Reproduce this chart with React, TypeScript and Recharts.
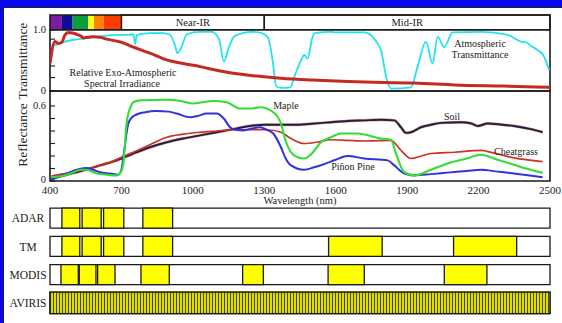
import React from 'react';
import { ComposedChart, LineChart, Line, XAxis, YAxis, ReferenceArea } from 'recharts';

const FONT = '"Liberation Serif", "Times New Roman", Times, serif';
const INK = '#1a1a1a';

// ---------- data ----------
const wlDomain: [number, number] = [400, 2500];
const xTickValues = [400, 700, 1000, 1300, 1600, 1900, 2200, 2500];
const innerXTicks = [700, 1000, 1300, 1600, 1900, 2200];
const transTicks = [0, 0.22, 0.41, 0.85, 1];
const reflTicks = [0, 0.1, 0.2, 0.3, 0.4, 0.5, 0.6];

const spectrumColors = [
  { from: 400, to: 450, color: '#7A1CA4' },
  { from: 450, to: 495, color: '#0C0C9A' },
  { from: 495, to: 560, color: '#0A9E3C' },
  { from: 560, to: 585, color: '#FFFF14' },
  { from: 585, to: 625, color: '#FF8200' },
  { from: 625, to: 700, color: '#FF3C00' },
];
const irRegions = [
  { from: 700, to: 1300, label: 'Near-IR' },
  { from: 1300, to: 2500, label: 'Mid-IR' },
];

const transmittance: [number, number][] = [
  [407, 0.73], [440, 0.78], [500, 0.84], [540, 0.86], [600, 0.89], [680, 0.92], [720, 0.92],
  [750, 0.93], [758, 0.77], [765, 0.92], [820, 0.95], [870, 0.95], [900, 0.93], [925, 0.75],
  [935, 0.62], [950, 0.7], [975, 0.93], [1030, 0.97], [1080, 0.97], [1110, 0.85], [1130, 0.48],
  [1150, 0.7], [1175, 0.9], [1250, 0.97], [1290, 0.95], [1315, 0.88], [1335, 0.5], [1350, 0.08],
  [1370, 0.05], [1410, 0.06], [1426, 0.23], [1454, 0.5], [1468, 0.59], [1482, 0.53], [1500, 0.85],
  [1512, 0.95], [1580, 0.97], [1600, 0.96], [1720, 0.96], [1767, 0.83], [1790, 0.67], [1815, 0.18],
  [1832, 0.04], [1916, 0.06], [1944, 0.4], [1979, 0.81], [2007, 0.45], [2028, 0.89], [2056, 0.72],
  [2091, 0.96], [2210, 0.97], [2322, 0.92], [2378, 0.81], [2400, 0.8], [2420, 0.74], [2448, 0.67],
  [2470, 0.6], [2497, 0.34],
];

const irradiance: [number, number][] = [
  [400, 0.45], [421, 0.81], [435, 0.78], [450, 0.8], [463, 0.92], [477, 0.96], [495, 0.95],
  [512, 0.93], [530, 0.9], [540, 0.87], [560, 0.88], [582, 0.89], [610, 0.88], [638, 0.85],
  [700, 0.8], [750, 0.72], [820, 0.62], [890, 0.51], [960, 0.45], [1030, 0.4], [1100, 0.34],
  [1170, 0.29], [1270, 0.245], [1370, 0.21], [1500, 0.18], [1650, 0.155], [1800, 0.14],
  [1930, 0.13], [2100, 0.1], [2300, 0.08], [2500, 0.06],
];

const maple: [number, number][] = [
  [405, 0.03], [450, 0.04], [500, 0.07], [526, 0.09], [554, 0.09], [596, 0.06], [640, 0.05],
  [680, 0.045], [700, 0.08], [708, 0.14], [722, 0.46], [740, 0.6], [750, 0.63], [778, 0.645],
  [890, 0.65], [950, 0.64], [1002, 0.62], [1040, 0.63], [1083, 0.64], [1142, 0.63], [1198, 0.58],
  [1250, 0.58], [1282, 0.59], [1338, 0.55], [1370, 0.46], [1390, 0.32], [1412, 0.23], [1440, 0.19],
  [1468, 0.18], [1500, 0.22], [1538, 0.31], [1580, 0.35], [1622, 0.38], [1692, 0.38], [1790, 0.34],
  [1832, 0.33], [1853, 0.22], [1888, 0.07], [1930, 0.045], [2000, 0.09], [2070, 0.14], [2150, 0.18],
  [2210, 0.21], [2280, 0.17], [2349, 0.13], [2400, 0.1], [2469, 0.065],
];

const pinonPine: [number, number][] = [
  [405, 0.01], [470, 0.06], [520, 0.095], [554, 0.105], [580, 0.09], [610, 0.07], [650, 0.06],
  [687, 0.05], [700, 0.09], [708, 0.19], [729, 0.46], [745, 0.51], [761, 0.53], [800, 0.55],
  [845, 0.56], [900, 0.555], [932, 0.54], [988, 0.51], [1020, 0.52], [1058, 0.54], [1100, 0.54],
  [1130, 0.5], [1156, 0.43], [1180, 0.41], [1212, 0.405], [1250, 0.42], [1282, 0.43], [1310, 0.41],
  [1338, 0.38], [1370, 0.27], [1390, 0.18], [1412, 0.125], [1468, 0.09], [1510, 0.11], [1552, 0.135],
  [1600, 0.17], [1650, 0.2], [1720, 0.18], [1818, 0.165], [1846, 0.125], [1888, 0.06], [1930, 0.045],
  [2000, 0.055], [2070, 0.067], [2150, 0.08], [2210, 0.09], [2280, 0.075], [2349, 0.06], [2469, 0.03],
];

const cheatgrass: [number, number][] = [
  [405, 0.04], [450, 0.055], [540, 0.09], [600, 0.12], [652, 0.15], [700, 0.19], [750, 0.23],
  [820, 0.29], [890, 0.35], [960, 0.375], [1030, 0.39], [1100, 0.4], [1170, 0.41], [1250, 0.41],
  [1310, 0.41], [1370, 0.39], [1412, 0.34], [1468, 0.3], [1520, 0.31], [1580, 0.33], [1650, 0.325],
  [1720, 0.32], [1832, 0.325], [1874, 0.245], [1916, 0.18], [1960, 0.2], [2000, 0.22], [2100, 0.23],
  [2210, 0.245], [2260, 0.225], [2349, 0.185], [2469, 0.155],
];

const soil: [number, number][] = [
  [405, 0.02], [470, 0.05], [540, 0.085], [610, 0.125], [680, 0.165], [750, 0.22], [820, 0.27],
  [890, 0.31], [960, 0.34], [1030, 0.365], [1100, 0.39], [1170, 0.415], [1240, 0.44], [1300, 0.45],
  [1370, 0.45], [1440, 0.45], [1510, 0.46], [1580, 0.47], [1650, 0.48], [1720, 0.485], [1790, 0.49],
  [1846, 0.485], [1874, 0.43], [1895, 0.385], [1916, 0.39], [1958, 0.43], [2000, 0.45], [2042, 0.465],
  [2126, 0.47], [2170, 0.46], [2196, 0.44], [2238, 0.46], [2300, 0.45], [2349, 0.44], [2420, 0.415],
  [2469, 0.39],
];

const sensorNames = ['ADAR', 'TM', 'MODIS', 'AVIRIS'];
const adarBands: [number, number][] = [[450, 525], [535, 615], [625, 710], [790, 915]];
const tmBands: [number, number][] = [[450, 525], [535, 615], [625, 710], [790, 915], [1570, 1795], [2095, 2360]];
const modisBands: [number, number][] = [[446, 519], [523, 593], [600, 673], [782, 901], [1209, 1296], [1568, 1720], [2056, 2235]];
const avirisBands: [number, number][] = [[400, 2500]];
const sensorBands = [adarBands, tmBands, modisBands, avirisBands];

const toPts = (a: [number, number][]) => a.map(([wl, v]) => ({ wl, v }));

// ---------- tick renderers ----------
const InwardYTick = (props: any) => {
  const { x, y, payload, fmt, lift } = props;
  const label = fmt(payload.value);
  const shift = lift ? lift(payload.value) : 0;
  return (
    <g>
      <line x1={x} x2={x + 5} y1={y} y2={y} stroke={INK} strokeWidth={1.1} />
      {label ? (
        <text x={x - 4} y={y - 0.5 - shift} dy="0.34em" textAnchor="end" fontSize={10.5} fontFamily={FONT} fill="#222">
          {label}
        </text>
      ) : null}
    </g>
  );
};

const UpXTick = (props: any) => {
  const { x, y } = props;
  return <line x1={x} x2={x} y1={y} y2={y - 3} stroke={INK} strokeWidth={1.1} />;
};

const SensorTick = (props: any) => {
  const { x, y, payload } = props;
  return (
    <text x={x - 22} y={y} dy="0.38em" textAnchor="middle" fontSize={11.5} fontFamily={FONT} fill="#222">
      {sensorNames[payload.value]}
    </text>
  );
};

const transFmt = (v: number) => (v === 1 ? '1.0' : v === 0 ? '0' : '');
const reflFmt = (v: number) => (v === 0.6 ? '0.6' : v === 0 ? '0' : '');
const reflLift = (v: number) => (v === 0 ? 1.5 : 0);

const abs: React.CSSProperties = { position: 'absolute', left: 0, top: 0 };

export default function App() {
  return (
    <div style={{ position: 'absolute', left: 0, top: 0, width: 562, height: 323, background: '#0808F0', overflow: 'hidden', fontFamily: FONT }}>
      <div style={{ position: 'absolute', left: 3, top: 7, width: 559, height: 316, background: '#fff', borderTop: '1px solid #223', borderLeft: '1px solid #223', boxSizing: 'border-box' }} />

      {/* colour / region bar */}
      <div style={abs}>
        <ComposedChart width={562} height={30} margin={{ top: 15, right: 12, bottom: 0, left: 50 }}>
          <XAxis type="number" dataKey="wl" domain={wlDomain} allowDataOverflow hide />
          <YAxis type="number" domain={[0, 1]} allowDataOverflow hide />
          {spectrumColors.map((c) => (
            <ReferenceArea key={c.from} x1={c.from} x2={c.to} y1={0} y2={1} fill={c.color} fillOpacity={1} stroke="none" ifOverflow="visible" />
          ))}
          {irRegions.map((r) => (
            <ReferenceArea
              key={r.label}
              x1={r.from}
              x2={r.to}
              y1={0}
              y2={1}
              fill="#fff"
              fillOpacity={1}
              stroke={INK}
              strokeWidth={1.5}
              ifOverflow="visible"
              label={{ value: r.label, position: 'center', fontSize: 10.5, fill: '#222', fontFamily: FONT }}
            />
          ))}
          <ReferenceArea x1={400} x2={2500} y1={0} y2={1} fill="none" stroke={INK} strokeWidth={1.6} ifOverflow="visible" />
        </ComposedChart>
      </div>

      {/* transmittance / irradiance panel */}
      <div style={abs}>
        <LineChart width={562} height={100} margin={{ top: 30, right: 12, bottom: 9, left: 0 }}>
          <XAxis
            type="number"
            dataKey="wl"
            domain={wlDomain}
            allowDataOverflow
            ticks={innerXTicks}
            interval={0}
            height={0}
            tickSize={0}
            tickMargin={0}
            axisLine={false}
            tickLine={false}
            tick={(p: any) => <UpXTick {...p} />}
          />
          <YAxis
            type="number"
            domain={[0, 1]}
            allowDataOverflow
            ticks={transTicks}
            interval={0}
            width={50}
            tickSize={0}
            tickMargin={0}
            axisLine={false}
            tickLine={false}
            tick={(p: any) => <InwardYTick {...p} fmt={transFmt} />}
          />
          <Line data={toPts(transmittance)} dataKey="v" type="monotone" stroke="#22E4EE" strokeWidth={1.8} dot={false} isAnimationActive={false} />
          <Line data={toPts(irradiance)} dataKey="v" type="monotone" stroke="#C42A22" strokeWidth={3} dot={false} isAnimationActive={false} />
          <ReferenceArea x1={400} x2={2500} y1={0} y2={1} fill="none" stroke={INK} strokeWidth={1.6} ifOverflow="visible" />
        </LineChart>
      </div>

      {/* reflectance panel */}
      <div style={abs}>
        <LineChart width={562} height={207} margin={{ top: 91, right: 12, bottom: 10, left: 0 }}>
          <XAxis
            type="number"
            dataKey="wl"
            domain={wlDomain}
            allowDataOverflow
            ticks={xTickValues}
            interval={0}
            height={16}
            tickSize={0}
            tickMargin={5.5}
            axisLine={false}
            tickLine={false}
            tick={{ fontSize: 11, fill: '#222', fontFamily: FONT }}
            label={{ value: 'Wavelength (nm)', position: 'bottom', offset: 0, fontSize: 10.5, fill: '#222', fontFamily: FONT }}
          />
          <YAxis
            type="number"
            domain={[0, 0.72]}
            allowDataOverflow
            ticks={reflTicks}
            interval={0}
            width={50}
            tickSize={0}
            tickMargin={0}
            axisLine={false}
            tickLine={false}
            tick={(p: any) => <InwardYTick {...p} fmt={reflFmt} lift={reflLift} />}
          />
          <Line data={toPts(soil)} dataKey="v" type="monotone" stroke="#E8A868" strokeWidth={3} dot={false} isAnimationActive={false} />
          <Line data={toPts(soil)} dataKey="v" type="monotone" stroke="#1E1E5A" strokeWidth={1.9} dot={false} isAnimationActive={false} />
          <Line data={toPts(cheatgrass)} dataKey="v" type="monotone" stroke="#CC3322" strokeWidth={1.7} dot={false} isAnimationActive={false} />
          <Line data={toPts(pinonPine)} dataKey="v" type="monotone" stroke="#3232DC" strokeWidth={2} dot={false} isAnimationActive={false} />
          <Line data={toPts(maple)} dataKey="v" type="monotone" stroke="#33DD33" strokeWidth={2.1} dot={false} isAnimationActive={false} />
          <ReferenceArea x1={400} x2={2500} y1={0} y2={0.72} fill="none" stroke={INK} strokeWidth={1.6} ifOverflow="visible" />
        </LineChart>
      </div>

      {/* sensor band rows */}
      <div style={abs}>
        <ComposedChart width={562} height={323} margin={{ top: 204, right: 12, bottom: 6, left: 0 }}>
          <defs>
            <pattern id="avirisStripes" patternUnits="userSpaceOnUse" width={3} height={10}>
              <rect x={0} y={0} width={3} height={10} fill="#DEDE00" />
              <rect x={2} y={0} width={1} height={10} fill="#484800" />
            </pattern>
          </defs>
          <XAxis type="number" dataKey="wl" domain={wlDomain} allowDataOverflow hide />
          <YAxis
            type="number"
            domain={[-0.5, 3.5]}
            allowDataOverflow
            reversed
            ticks={[0, 1, 2, 3]}
            interval={0}
            width={50}
            tickSize={0}
            tickMargin={0}
            axisLine={false}
            tickLine={false}
            tick={(p: any) => <SensorTick {...p} />}
          />
          {sensorNames.map((name, i) => {
            const h = name === 'AVIRIS' ? 0.38 : 0.355;
            return (
              <ReferenceArea key={name + '-bg'} x1={400} x2={2500} y1={i - h} y2={i + h} fill="#fff" fillOpacity={1} stroke={INK} strokeWidth={1.3} ifOverflow="visible" />
            );
          })}
          {sensorNames.map((name, i) => {
            const h = name === 'AVIRIS' ? 0.38 : 0.355;
            return sensorBands[i].map(([a, b]) => (
              <ReferenceArea
                key={name + a}
                x1={a}
                x2={b}
                y1={i - h}
                y2={i + h}
                fill={name === 'AVIRIS' ? 'url(#avirisStripes)' : '#FFFF00'}
                fillOpacity={1}
                stroke={INK}
                strokeWidth={1.3}
                ifOverflow="visible"
              />
            ));
          })}
        </ComposedChart>
      </div>

      {/* titles and annotations */}
      <svg width={562} height={323} style={{ ...abs, pointerEvents: 'none' }} fontFamily={FONT} fill="#222">
        <text transform="translate(22,61) rotate(-90)" textAnchor="middle" dy="0.35em" fontSize={13.5}>Transmittance</text>
        <text transform="translate(22,135) rotate(-90)" textAnchor="middle" dy="0.35em" fontSize={13.5}>Reflectance</text>
        <text x={123} y={72} dy="0.35em" textAnchor="middle" fontSize={10}>Relative Exo-Atmospheric</text>
        <text x={122} y={83.5} dy="0.35em" textAnchor="middle" fontSize={10}>Spectral Irradiance</text>
        <text x={480} y={43} dy="0.35em" textAnchor="middle" fontSize={10}>Atmospheric</text>
        <text x={480} y={54.5} dy="0.35em" textAnchor="middle" fontSize={10}>Transmittance</text>
        <text x={286} y={105} dy="0.35em" textAnchor="middle" fontSize={10}>Maple</text>
        <text x={452} y={116} dy="0.35em" textAnchor="middle" fontSize={10}>Soil</text>
        <text x={516} y={151.5} dy="0.35em" textAnchor="middle" fontSize={10}>Cheatgrass</text>
        <text x={353} y={166} dy="0.35em" textAnchor="middle" fontSize={10}>Piñon Pine</text>
      </svg>
    </div>
  );
}
